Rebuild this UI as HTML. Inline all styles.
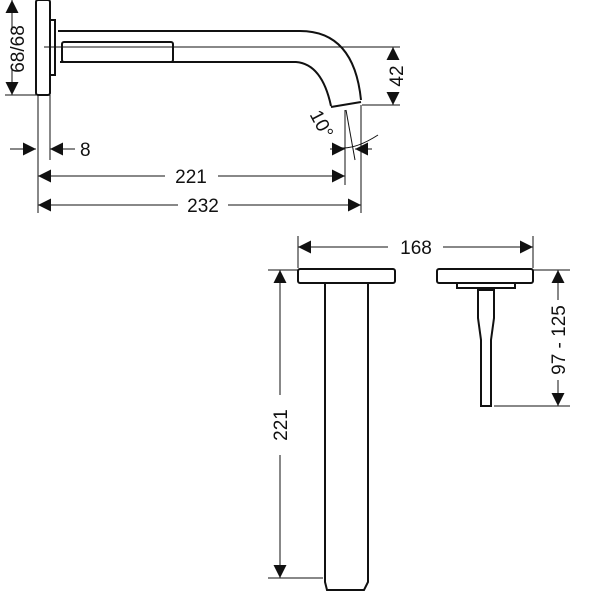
<!DOCTYPE html>
<html><head><meta charset="utf-8"><style>body{margin:0;background:#fff}svg{display:block}</style></head><body>
<svg width="600" height="600" viewBox="0 0 600 600" xmlns="http://www.w3.org/2000/svg" font-family="Liberation Sans, sans-serif" font-size="19" fill="none" stroke="#111">
<defs><marker id="a" viewBox="0 0 10 10" refX="10" refY="5" markerWidth="13" markerHeight="13" markerUnits="userSpaceOnUse" orient="auto"><path d="M0,0L10,5L0,10z" fill="#111" stroke="none"/></marker></defs>
<g stroke-width="2">
<rect x="36" y="0" width="14" height="95" rx="2"/>
<rect x="50" y="20" width="5" height="55"/>
<path d="M58,31H300Q354,31 361,100"/>
<path d="M60,62H296Q322,64 331,106"/>
<path d="M331,107L361,102"/>
<rect x="62" y="42" width="111" height="20" rx="2"/>
<rect x="298" y="269" width="97" height="14" rx="2"/>
<path d="M325,283V582L327,590H364L368,582V283"/>
<rect x="437" y="269" width="96" height="14" rx="2"/>
<rect x="457" y="283" width="58" height="5"/>
<path d="M478,290L478,318L481,340V406H491V340L494,318V290Z"/>
</g>
<g stroke-width="1">
<line x1="44" y1="47" x2="400" y2="47"/>
<line x1="5" y1="95" x2="36" y2="95"/>
<line x1="362" y1="105" x2="400" y2="105"/>
<line x1="38" y1="95" x2="38" y2="213"/>
<line x1="50" y1="95" x2="50" y2="160"/>
<line x1="345" y1="110" x2="345" y2="185"/>
<line x1="361" y1="105" x2="361" y2="213"/>
<line x1="346" y1="110" x2="355" y2="160"/>
<line x1="12" y1="30" x2="12" y2="0" marker-end="url(#a)"/>
<line x1="12" y1="68" x2="12" y2="95" marker-end="url(#a)"/>
<line x1="393" y1="60" x2="393" y2="47" marker-end="url(#a)"/>
<line x1="393" y1="92" x2="393" y2="105" marker-end="url(#a)"/>
<line x1="10" y1="149" x2="36" y2="149" marker-end="url(#a)"/>
<line x1="75" y1="149" x2="50" y2="149" marker-end="url(#a)"/>
<line x1="330" y1="149" x2="345" y2="149" marker-end="url(#a)"/>
<line x1="372" y1="149" x2="355" y2="149" marker-end="url(#a)"/>
<path d="M333,146Q350,153 378,135"/>
<line x1="165" y1="176" x2="38" y2="176" marker-end="url(#a)"/>
<line x1="218" y1="176" x2="345" y2="176" marker-end="url(#a)"/>
<line x1="178" y1="205" x2="38" y2="205" marker-end="url(#a)"/>
<line x1="228" y1="205" x2="361" y2="205" marker-end="url(#a)"/>
<line x1="298" y1="236" x2="298" y2="268"/>
<line x1="533" y1="236" x2="533" y2="268"/>
<line x1="388" y1="247" x2="298" y2="247" marker-end="url(#a)"/>
<line x1="443" y1="247" x2="533" y2="247" marker-end="url(#a)"/>
<line x1="268" y1="270" x2="298" y2="270"/>
<line x1="268" y1="578" x2="323" y2="578"/>
<line x1="280" y1="395" x2="280" y2="270" marker-end="url(#a)"/>
<line x1="280" y1="455" x2="280" y2="578" marker-end="url(#a)"/>
<line x1="533" y1="270" x2="570" y2="270"/>
<line x1="494" y1="406" x2="570" y2="406"/>
<line x1="558" y1="300" x2="558" y2="270" marker-end="url(#a)"/>
<line x1="558" y1="380" x2="558" y2="406" marker-end="url(#a)"/>
</g>
<g fill="#111" stroke="none">
<text x="0" y="0" transform="translate(24,49) rotate(-90)" text-anchor="middle">68/68</text>
<text x="0" y="0" transform="translate(403,76) rotate(-90)" text-anchor="middle">42</text>
<text x="80" y="156">8</text>
<text x="0" y="0" transform="translate(316,127) rotate(62)" text-anchor="middle">10°</text>
<text x="191" y="183" text-anchor="middle">221</text>
<text x="203" y="212" text-anchor="middle">232</text>
<text x="416" y="254" text-anchor="middle">168</text>
<text x="0" y="0" transform="translate(287,425) rotate(-90)" text-anchor="middle">221</text>
<text x="0" y="0" transform="translate(565,340) rotate(-90)" text-anchor="middle">97 - 125</text>
</g>
</svg>
</body></html>
